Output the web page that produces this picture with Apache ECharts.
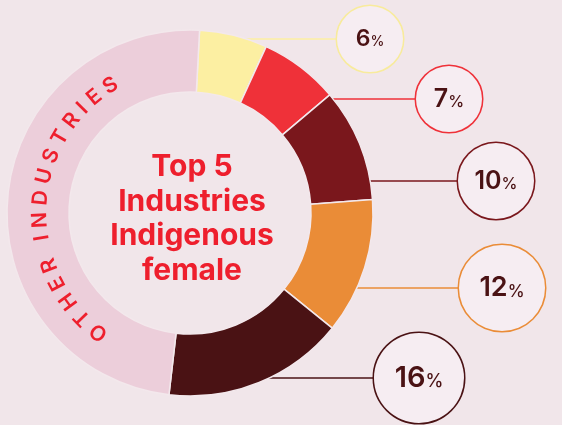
<!DOCTYPE html>
<html>
<head>
<meta charset="utf-8">
<script src="https://cdn.jsdelivr.net/npm/echarts@6/dist/echarts.min.js"></script>
<style>
  html, body { margin: 0; padding: 0; background: #f1e6ea; }
  #chart { width: 562px; height: 425px; }
</style>
</head>
<body>
<div id="chart"></div>
<script>
// data
const segmentNames = ['Industry 1', 'Industry 2', 'Industry 3', 'Industry 4', 'Industry 5', 'Other industries']
const segmentShares = [6, 7, 10, 12, 16, 49]
const segmentColors = ['#fcefa2', '#ef3139', '#7a171c', '#ea8c37', '#4a1214', '#ecceda']
const ringLabel = 'OTHER INDUSTRIES'
const centerTitle = ['Top 5', 'Industries', 'Indigenous', 'female']

// layout
const CX = 190, CY = 213, R_IN = 121, R_OUT = 183
// bubble centre x, y and radius for each labelled slice
const bubbles = [[370, 39, 33], [449, 99, 33], [496, 181, 38], [502, 288, 43], [419, 378, 45]]
const bubbleFont = [23, 25, 25, 27, 29]
const bubbleBorder = ['#f8eb9c', '#ef3139', '#7a171c', '#ea8c37', '#4a1214']
const TEXT_DARK = '#4a1214'
const RED = '#ee1f2d'
const FONT = 'Inter, "Noto Sans", sans-serif'

const chart = echarts.init(document.getElementById('chart'))

function sliceLabel(i) {
  if (i >= bubbles.length) return { show: false }
  const r = bubbles[i][2]
  const f = bubbleFont[i]
  const pf = Math.round(f * 0.62)
  return {
    show: true,
    position: 'outside',
    formatter: '{n|{c}}{p|%}',
    width: r * 2,
    height: r * 2,
    borderRadius: r,
    backgroundColor: '#f6edf2',
    borderColor: bubbleBorder[i],
    borderWidth: 1.5,
    align: 'center',
    verticalAlign: 'middle',
    overflow: 'none',
    rich: {
      n: { fontSize: f, fontWeight: 600, color: TEXT_DARK, fontFamily: FONT, lineHeight: r * 2, align: 'center' },
      p: { fontSize: pf, fontWeight: 500, color: TEXT_DARK, fontFamily: FONT, lineHeight: r * 2, align: 'center',
           padding: [0.7 * (f - pf), 0, 0, 0] }
    }
  }
}

const pieData = segmentShares.map((v, i) => ({
  name: segmentNames[i],
  value: v,
  itemStyle: { color: segmentColors[i] },
  label: sliceLabel(i),
  labelLine: {
    show: i < bubbles.length,
    lineStyle: { color: segmentColors[i], width: 1.5 }
  }
}))

// curved ring label, one glyph at a time
const RING_FONT_SIZE = 21
const R_TEXT = 150
const A0 = 217.5, A1 = 328
const ctx = document.createElement('canvas').getContext('2d')
ctx.font = '600 ' + RING_FONT_SIZE + 'px ' + FONT
const chars = ringLabel.split('')
const widths = chars.map((c) => ctx.measureText(c).width)
const inner = widths.reduce((a, b) => a + b, 0) - widths[0] / 2 - widths[widths.length - 1] / 2
const arcLen = (A1 - A0) * Math.PI / 180 * R_TEXT
const gap = (arcLen - inner) / (chars.length - 1)
const ringGlyphs = []
let s = 0
chars.forEach((c, i) => {
  if (i > 0) s += widths[i - 1] / 2 + gap + widths[i] / 2
  const th = (A0 * Math.PI / 180) + s / R_TEXT
  ringGlyphs.push({
    type: 'text',
    x: CX + R_TEXT * Math.sin(th),
    y: CY - R_TEXT * Math.cos(th),
    rotation: -th,
    z: 100,
    silent: true,
    style: {
      text: c,
      fill: RED,
      fontSize: RING_FONT_SIZE,
      fontWeight: 600,
      fontFamily: FONT,
      align: 'center',
      verticalAlign: 'middle'
    }
  })
})

const option = {
  backgroundColor: '#f1e6ea',
  animation: false,
  graphic: [
    {
      type: 'text',
      x: 192,
      y: 219,
      z: 100,
      silent: true,
      style: {
        text: centerTitle.join('\n'),
        fill: RED,
        fontSize: 30,
        fontWeight: 700,
        fontFamily: FONT,
        lineHeight: 34.5,
        align: 'center',
        verticalAlign: 'middle'
      }
    },
    ...ringGlyphs
  ],
  series: [
    {
      type: 'pie',
      center: [CX, CY],
      radius: [R_IN, R_OUT],
      startAngle: 87,
      clockwise: true,
      avoidLabelOverlap: false,
      silent: true,
      itemStyle: { borderColor: '#f3e8ec', borderWidth: 1.5 },
      labelLayout: function (p) {
        const i = p.dataIndex
        if (i >= bubbles.length) return {}
        const [bx, by, r] = bubbles[i]
        const dy = by - CY
        const x0 = CX + Math.sqrt(Math.max(R_OUT * R_OUT - dy * dy, 0)) - 2
        return {
          x: bx,
          y: by,
          align: 'center',
          verticalAlign: 'middle',
          labelLinePoints: [[x0, by], [x0, by], [bx - r, by]]
        }
      },
      data: pieData
    }
  ]
}

chart.setOption(option)
</script>
</body>
</html>
